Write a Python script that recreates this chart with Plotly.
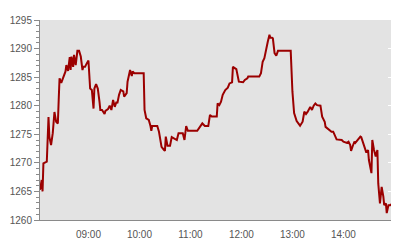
import plotly.graph_objects as go

day = "2024-01-01 "
times = [
    "08:03", "08:05", "08:06", "08:07", "08:11", "08:13", "08:14", "08:16", "08:18", "08:20",
    "08:22", "08:24", "08:25", "08:26", "08:28", "08:31", "08:33", "08:34", "08:36", "08:38",
    "08:39", "08:40", "08:42", "08:43", "08:45", "08:47", "08:49", "08:51", "08:53", "08:54",
    "08:56", "08:58", "09:00", "09:02", "09:04", "09:06", "09:07", "09:09", "09:11", "09:13",
    "09:14", "09:16", "09:19", "09:20", "09:23", "09:25", "09:27", "09:29", "09:31", "09:33",
    "09:34", "09:36", "09:38", "09:41", "09:42", "09:45", "09:46", "09:49", "09:51", "09:52",
    "09:54", "10:05", "10:06", "10:08", "10:11", "10:13", "10:14", "10:15", "10:21", "10:23",
    "10:25", "10:26", "10:29", "10:30", "10:31", "10:33", "10:36", "10:38", "10:44", "10:46",
    "10:51", "10:53", "10:55", "10:57", "11:08", "11:14", "11:17", "11:21", "11:23", "11:25",
    "11:31", "11:32", "11:34", "11:36", "11:38", "11:41", "11:44", "11:46", "11:49", "11:50",
    "11:53", "11:54", "11:57", "12:02", "12:04", "12:07", "12:08", "12:21", "12:23", "12:25",
    "12:27", "12:29", "12:31", "12:33", "12:34", "12:36", "12:37", "12:39", "12:41", "12:43",
    "12:58", "13:00", "13:02", "13:05", "13:09", "13:12", "13:14", "13:16", "13:18", "13:21",
    "13:23", "13:25", "13:27", "13:29", "13:33", "13:35", "13:38", "13:39", "13:42", "13:44",
    "13:46", "13:48", "13:50", "13:52", "13:58", "14:00", "14:04", "14:06", "14:08", "14:09",
    "14:11", "14:13", "14:14", "14:17", "14:20", "14:21", "14:23", "14:25", "14:27", "14:29",
    "14:30", "14:33", "14:34", "14:36", "14:38", "14:40", "14:41", "14:43", "14:45", "14:47",
    "14:48", "14:50", "14:51", "14:53", "14:55", "14:56",
]
values = [
    1265.3, 1267.0, 1265.0, 1269.9, 1270.2, 1278.0, 1274.6, 1273.1, 1275.2, 1278.9,
    1277.2, 1276.9, 1281.0, 1284.8, 1284.0, 1285.4, 1286.0, 1287.1, 1286.1, 1288.5,
    1286.25, 1288.6, 1286.8, 1288.9, 1287.1, 1289.6, 1289.6, 1288.6, 1286.25, 1286.8,
    1286.8, 1287.4, 1287.9, 1283.0, 1282.75, 1279.5, 1283.0, 1283.8, 1283.0, 1280.7,
    1279.25, 1279.25, 1278.55, 1279.1, 1279.4, 1280.0, 1279.25, 1281.0, 1279.8, 1280.7,
    1280.4, 1281.9, 1282.75, 1282.5, 1281.6, 1282.2, 1284.2, 1286.25, 1285.2, 1286.0,
    1285.7, 1285.7, 1279.25, 1277.8, 1277.5, 1276.45, 1275.6, 1276.45, 1276.45, 1275.45,
    1274.0, 1272.8, 1272.25, 1272.1, 1274.6, 1273.0, 1273.0, 1274.5, 1274.0, 1275.2,
    1275.2, 1274.0, 1276.45, 1275.6, 1275.6, 1276.9, 1276.45, 1276.45, 1278.4, 1278.1,
    1278.1, 1280.4, 1280.1, 1280.7, 1281.9, 1282.75, 1283.15, 1283.9, 1284.1, 1286.8,
    1286.5, 1286.4, 1284.2, 1284.1, 1284.5, 1284.8, 1285.1, 1285.1, 1285.7, 1287.7,
    1288.3, 1290.0, 1291.2, 1292.4, 1291.9, 1291.9, 1291.8, 1289.2, 1288.75, 1289.6,
    1289.6, 1282.5, 1278.7, 1277.3, 1276.5, 1277.2, 1278.95, 1278.55, 1278.95, 1279.8,
    1279.25, 1280.0, 1280.4, 1280.1, 1280.0, 1278.1, 1277.2, 1276.3, 1275.9, 1275.75,
    1275.45, 1275.45, 1274.9, 1274.1, 1274.0, 1273.7, 1273.5, 1273.7, 1273.1, 1272.1,
    1272.95, 1273.7, 1273.5, 1274.0, 1274.6, 1274.5, 1273.5, 1272.55, 1271.8, 1272.25,
    1270.5, 1268.2, 1274.0, 1272.25, 1271.1, 1272.25, 1266.4, 1262.9, 1265.8, 1264.1,
    1262.6, 1262.9, 1261.2, 1262.6, 1262.6, 1262.8,
]
x_range = ["08:03", "14:56"]
x_ticks = ["09:00", "10:00", "11:00", "12:00", "13:00", "14:00"]
y_range = [1260, 1295]

x = [day + t for t in times]

fig = go.Figure()
fig.add_trace(go.Scatter(
    x=x, y=values, mode="lines",
    line=dict(color="#9b0000", width=2),
    showlegend=False, hoverinfo="skip",
))
# invisible trace to activate right-side axis with white ticks
fig.add_trace(go.Scatter(
    x=[x[0]], y=[values[0]], yaxis="y2", mode="markers",
    marker=dict(opacity=0), showlegend=False, hoverinfo="skip",
))

font = dict(family="Liberation Sans, Arial, sans-serif", size=10, color="#555555")

fig.update_layout(
    width=400, height=240,
    margin=dict(l=40, r=9, t=20, b=20),
    paper_bgcolor="white",
    plot_bgcolor="#e3e3e3",
    font=font,
    xaxis=dict(
        type="date", automargin=False,
        range=[day + x_range[0], day + x_range[1]],
        tickvals=[day + t for t in x_ticks],
        ticktext=x_ticks,
        showgrid=False, zeroline=False,
        showline=True, linecolor="#8a8a8a", linewidth=1,
        ticks="outside", ticklen=5, tickcolor="rgba(0,0,0,0)", tickfont=font,
    ),
    yaxis=dict(
        range=y_range, dtick=5, tick0=1260, automargin=False,
        showgrid=False, zeroline=False,
        showline=True, linecolor="#8a8a8a", linewidth=1,
        ticks="outside", ticklen=5, tickcolor="#8a8a8a", tickwidth=1,
        minor=dict(dtick=1, ticks="outside", ticklen=3, tickcolor="#8a8a8a", tickwidth=1),
        tickfont=font,
    ),
    yaxis2=dict(
        range=y_range, dtick=5, tick0=1260, automargin=False,
        overlaying="y", side="right",
        showgrid=False, zeroline=False, showline=False,
        ticks="inside", ticklen=3, tickcolor="white", tickwidth=1,
        showticklabels=False,
    ),
)

fig.write_html("out.html")
